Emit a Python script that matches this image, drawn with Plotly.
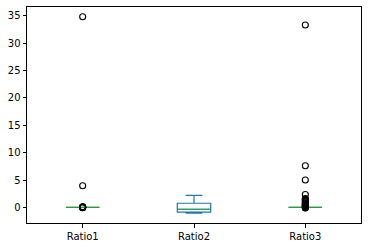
import plotly.graph_objects as go

categories = ["Ratio1", "Ratio2", "Ratio3"]
positions = [1, 2, 3]
q1 = [0.0, -0.87, 0.0]
median = [0.0, -0.33, 0.0]
q3 = [0.0, 0.76, 0.0]
lowerfence = [0.0, -1.05, 0.0]
upperfence = [0.0, 2.2, 0.0]

outliers_ratio1 = [34.8, 3.95, 0.12, 0.08, 0.05, 0.03, -0.03, -0.06]
outliers_ratio2 = []
outliers_ratio3 = [33.3, 7.6, 5.0, 2.35, 1.6, 1.45, 1.3, 1.15, 1.0, 0.85,
                   0.7, 0.6, 0.5, 0.4, 0.3, 0.2, 0.1, 0.05, -0.05, -0.1]
yticks = [0, 5, 10, 15, 20, 25, 30, 35]

box_width = 0.3
blue = "#1f77b4"
green = "#2ca02c"

fig = go.Figure()
fig.add_trace(go.Box(
    x=positions, q1=q1, median=median, q3=q3,
    lowerfence=lowerfence, upperfence=upperfence,
    width=box_width, whiskerwidth=0.5,
    line=dict(color=blue, width=1.2),
    fillcolor="rgba(0,0,0,0)", boxpoints=False, showlegend=False,
    hoverinfo="skip",
))

# median lines (green)
for p, m in zip(positions, median):
    fig.add_trace(go.Scatter(
        x=[p - box_width / 2, p + box_width / 2], y=[m, m], mode="lines",
        line=dict(color=green, width=1.2), showlegend=False, hoverinfo="skip",
    ))

# fliers
for p, outs in zip(positions, [outliers_ratio1, outliers_ratio2, outliers_ratio3]):
    if outs:
        fig.add_trace(go.Scatter(
            x=[p] * len(outs), y=outs, mode="markers",
            marker=dict(symbol="circle-open", size=6, color="black",
                        line=dict(width=1.1, color="black")),
            showlegend=False, hoverinfo="skip",
        ))

allvals = lowerfence + upperfence + outliers_ratio1 + outliers_ratio2 + outliers_ratio3
ymin, ymax = min(allvals), max(allvals)
pad = 0.05 * (ymax - ymin)

axis_common = dict(
    showline=True, mirror=True, linecolor="black", linewidth=1,
    showgrid=False, zeroline=False, ticks="outside", ticklen=3.5,
    tickwidth=1, tickcolor="black",
    tickfont=dict(family="DejaVu Sans", size=10, color="black"),
)

fig.update_layout(
    width=368, height=248,
    margin=dict(l=27, r=6, t=6, b=24),
    plot_bgcolor="white", paper_bgcolor="white",
    xaxis=dict(range=[0.5, 3.5], tickvals=positions, ticktext=categories, **axis_common),
    yaxis=dict(range=[ymin - pad, ymax + pad], tickvals=yticks, **axis_common),
)

fig.write_html("out.html", config={"displayModeBar": False},
               post_script="document.body.style.margin='0';")
